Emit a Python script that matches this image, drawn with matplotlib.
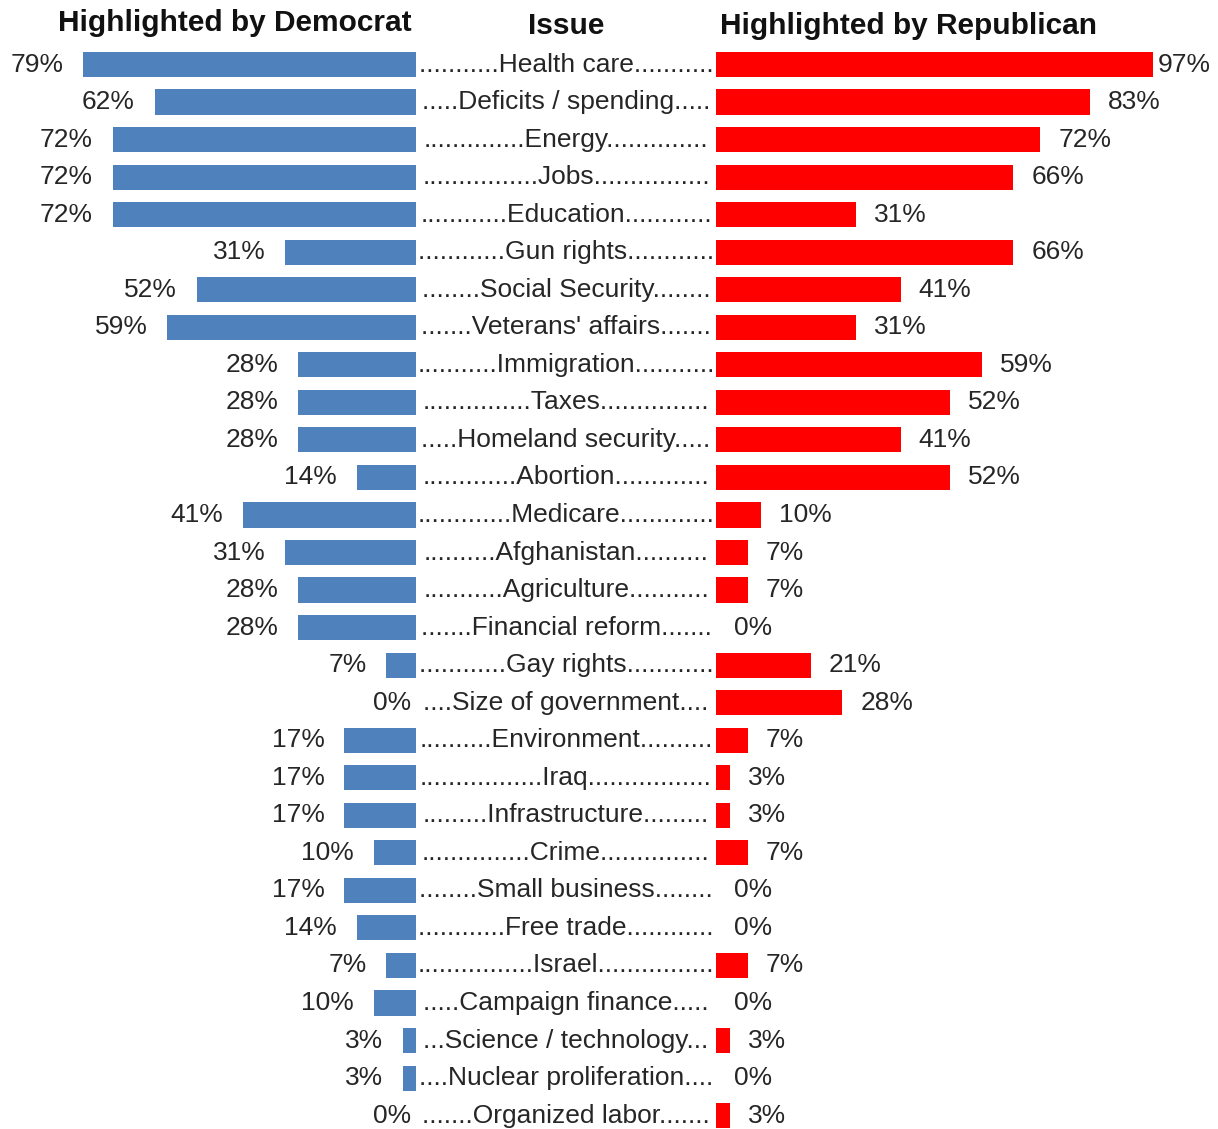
import matplotlib
matplotlib.use('agg')
import matplotlib.pyplot as plt
import matplotlib.transforms as mtransforms

# donnees
issues = ["Health care", "Deficits / spending", "Energy", "Jobs", "Education",
          "Gun rights", "Social Security", "Veterans' affairs", "Immigration",
          "Taxes", "Homeland security", "Abortion", "Medicare", "Afghanistan",
          "Agriculture", "Financial reform", "Gay rights", "Size of government",
          "Environment", "Iraq", "Infrastructure", "Crime", "Small business",
          "Free trade", "Israel", "Campaign finance", "Science / technology",
          "Nuclear proliferation", "Organized labor"]
dem = [79, 62, 72, 72, 72, 31, 52, 59, 28, 28, 28, 14, 41, 31, 28, 28, 7, 0,
       17, 17, 17, 10, 17, 14, 7, 10, 3, 3, 0]
rep = [97, 83, 72, 66, 31, 66, 41, 31, 59, 52, 41, 52, 10, 7, 7, 0, 21, 28,
       7, 3, 3, 7, 0, 0, 7, 0, 3, 0, 3]

W, H = 1218, 1129
BLUE = '#4F81BD'
RED = '#FF0000'
TXT = '#262626'
FONT = 'Liberation Sans'
FS = 19

fig = plt.figure(figsize=(W / 100, H / 100), dpi=100)

# position des axes en pixels -> fraction
top_px, bot_px = 40, H
row0, step = 64.5, 37.54
ylim = ((bot_px - row0) / step, (top_px - row0) / step)

axL = fig.add_axes([0, 0, 416 / W, (H - top_px) / H])
axR = fig.add_axes([716 / W, 0, (W - 716) / W, (H - top_px) / H])

rows = list(range(len(issues)))
axL.barh(rows, dem, height=0.67, color=BLUE)
axR.barh(rows, rep, height=0.67, color=RED)

axL.set_xlim(416 / 4.215, 0)
axR.set_xlim(0, (W - 716) / 4.505)
for ax in (axL, axR):
    ax.set_ylim(*ylim)
    ax.axis('off')

# etiquettes des pourcentages (Excel colle le 0% gauche contre l'axe)
for i, v in enumerate(dem):
    x = v + 4.7 if v > 0 else 1.2
    axL.text(x, i, f"{v}%", ha='right', va='center',
             fontsize=FS, family=FONT, color=TXT)
for i, v in enumerate(rep):
    axR.text(min(v + 4.0, 98), i, f"{v}%", ha='left', va='center',
             fontsize=FS, family=FONT, color=TXT)

# libelles centraux avec des points de conduite
trans = mtransforms.blended_transform_factory(fig.transFigure, axL.transData)
renderer = fig.canvas.get_renderer()
dot = fig.text(0, 0, '.' * 20, fontsize=FS, family=FONT)
dot_w = dot.get_window_extent(renderer).width / 20
dot.remove()
for i, lab in enumerate(issues):
    t = fig.text(566 / W, i, lab, transform=trans, ha='center', va='center',
                 fontsize=FS, family=FONT, color=TXT)
    w = t.get_window_extent(renderer).width
    n = max(int((298 - w) / (2 * dot_w)), 0)
    t.set_text('.' * n + lab + '.' * n)

# titres
fig.text(235 / W, 1 - 23 / H, "Highlighted by Democrat", ha='center', va='center',
         fontsize=21.5, fontweight='bold', family=FONT, color='#111111')
fig.text(566 / W, 1 - 26 / H, "Issue", ha='center', va='center',
         fontsize=21.5, fontweight='bold', family=FONT, color='#111111')
fig.text(909 / W, 1 - 26 / H, "Highlighted by Republican", ha='center', va='center',
         fontsize=21.5, fontweight='bold', family=FONT, color='#111111')

fig.savefig('out.png', dpi=100)
